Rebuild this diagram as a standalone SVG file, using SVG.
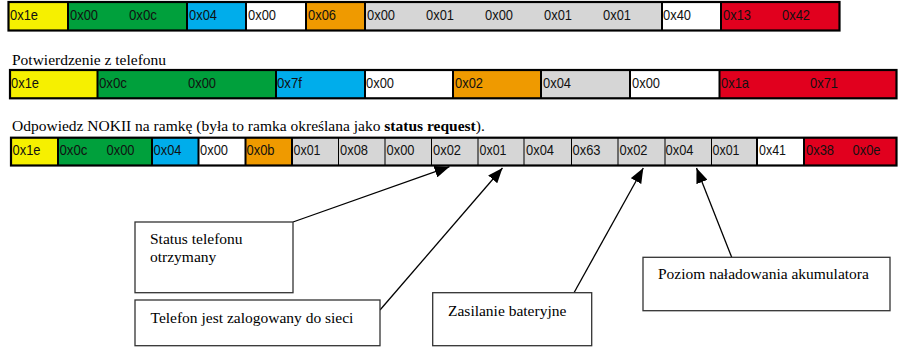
<svg xmlns="http://www.w3.org/2000/svg" width="903" height="349" viewBox="0 0 903 349">
<style>
.y{fill:#f6f000}.g{fill:#00a03c}.b{fill:#00adeb}.w{fill:#ffffff}.o{fill:#ef9a00}.s{fill:#d6d6d6}.r{fill:#e1001e}
.frame{fill:none;stroke:#000;stroke-width:2.2}
.div{stroke:#000;stroke-width:2}
.thin{stroke:#000;stroke-width:1}
.lbl{font-family:"Liberation Sans",Arial,sans-serif;font-size:15px;fill:#111}
.title{font-family:"Liberation Serif","Times New Roman",serif;font-size:15.5px;fill:#000}
.box{fill:#fff;stroke:#333;stroke-width:1.3}
.cap{font-family:"Liberation Serif","Times New Roman",serif;font-size:15.5px;fill:#000}
.con{stroke:#000;stroke-width:1.3;fill:none}
</style>
<defs>
<marker id="ah" markerUnits="userSpaceOnUse" markerWidth="15" markerHeight="12" refX="15" refY="6" orient="auto">
<path d="M0,0 L15,6 L0,12 z" fill="#000"/>
</marker>
</defs>

<g id="frame1">
<rect class="y" x="8.5" y="2" width="59.5" height="28.5"/>
<rect class="g" x="68" y="2" width="119" height="28.5"/>
<rect class="b" x="187" y="2" width="59" height="28.5"/>
<rect class="w" x="246" y="2" width="60" height="28.5"/>
<rect class="o" x="306" y="2" width="59" height="28.5"/>
<rect class="s" x="365" y="2" width="297" height="28.5"/>
<rect class="w" x="662" y="2" width="59" height="28.5"/>
<rect class="r" x="721" y="2" width="118.5" height="28.5"/>
<path class="div" d="M68,2V30.5M187,2V30.5M246,2V30.5M306,2V30.5M365,2V30.5M662,2V30.5M721,2V30.5"/>
<rect class="frame" x="8.5" y="2" width="831" height="28.5"/>
<g class="lbl">
<text x="10" y="20" textLength="28" lengthAdjust="spacingAndGlyphs">0x1e</text>
<text x="70" y="20" textLength="28" lengthAdjust="spacingAndGlyphs">0x00</text>
<text x="129" y="20" textLength="28" lengthAdjust="spacingAndGlyphs">0x0c</text>
<text x="189" y="20" textLength="28" lengthAdjust="spacingAndGlyphs">0x04</text>
<text x="248" y="20" textLength="28" lengthAdjust="spacingAndGlyphs">0x00</text>
<text x="308" y="20" textLength="28" lengthAdjust="spacingAndGlyphs">0x06</text>
<text x="367" y="20" textLength="28" lengthAdjust="spacingAndGlyphs">0x00</text>
<text x="426" y="20" textLength="28" lengthAdjust="spacingAndGlyphs">0x01</text>
<text x="485" y="20" textLength="28" lengthAdjust="spacingAndGlyphs">0x00</text>
<text x="544" y="20" textLength="28" lengthAdjust="spacingAndGlyphs">0x01</text>
<text x="603" y="20" textLength="28" lengthAdjust="spacingAndGlyphs">0x01</text>
<text x="663" y="20" textLength="28" lengthAdjust="spacingAndGlyphs">0x40</text>
<text x="723" y="20" textLength="28" lengthAdjust="spacingAndGlyphs">0x13</text>
<text x="782" y="20" textLength="28" lengthAdjust="spacingAndGlyphs">0x42</text>
</g>
</g>

<text class="title" x="12" y="65">Potwierdzenie z telefonu</text>

<g id="frame2">
<rect class="y" x="10" y="70" width="87.5" height="28.3"/>
<rect class="g" x="97.5" y="70" width="178.5" height="28.3"/>
<rect class="b" x="276" y="70" width="89" height="28.3"/>
<rect class="w" x="365" y="70" width="88" height="28.3"/>
<rect class="o" x="453" y="70" width="88" height="28.3"/>
<rect class="s" x="541" y="70" width="89" height="28.3"/>
<rect class="w" x="630" y="70" width="89.5" height="28.3"/>
<rect class="r" x="719.5" y="70" width="177" height="28.3"/>
<path class="div" d="M97.5,70V98.3M276,70V98.3M365,70V98.3M453,70V98.3M541,70V98.3M630,70V98.3M719.5,70V98.3"/>
<rect class="frame" x="10" y="70" width="886.5" height="28.3"/>
<g class="lbl">
<text x="11" y="87.5" textLength="28" lengthAdjust="spacingAndGlyphs">0x1e</text>
<text x="99" y="87.5" textLength="28" lengthAdjust="spacingAndGlyphs">0x0c</text>
<text x="188" y="87.5" textLength="28" lengthAdjust="spacingAndGlyphs">0x00</text>
<text x="277" y="87.5" textLength="25" lengthAdjust="spacingAndGlyphs">0x7f</text>
<text x="366" y="87.5" textLength="28" lengthAdjust="spacingAndGlyphs">0x00</text>
<text x="455" y="87.5" textLength="28" lengthAdjust="spacingAndGlyphs">0x02</text>
<text x="543" y="87.5" textLength="28" lengthAdjust="spacingAndGlyphs">0x04</text>
<text x="632" y="87.5" textLength="28" lengthAdjust="spacingAndGlyphs">0x00</text>
<text x="721" y="87.5" textLength="28" lengthAdjust="spacingAndGlyphs">0x1a</text>
<text x="810" y="87.5" textLength="28" lengthAdjust="spacingAndGlyphs">0x71</text>
</g>
</g>

<text class="title" x="12" y="131">Odpowiedz NOKII na ramkę (była to ramka określana jako <tspan font-weight="bold">status request</tspan>).</text>

<g id="frame3">
<rect class="y" x="11" y="137.7" width="47" height="27.8"/>
<rect class="g" x="58" y="137.7" width="94" height="27.8"/>
<rect class="b" x="152" y="137.7" width="46.5" height="27.8"/>
<rect class="w" x="198.5" y="137.7" width="47" height="27.8"/>
<rect class="o" x="245.5" y="137.7" width="46.5" height="27.8"/>
<rect class="s" x="292" y="137.7" width="465" height="27.8"/>
<rect class="w" x="757" y="137.7" width="47" height="27.8"/>
<rect class="r" x="804" y="137.7" width="92.5" height="27.8"/>
<path class="thin" d="M338.5,137.7V165.5M385,137.7V165.5M431.5,137.7V165.5M478,137.7V165.5M524,137.7V165.5M571.5,137.7V165.5M618,137.7V165.5M665,137.7V165.5M711.5,137.7V165.5"/>
<path class="div" d="M58,137.7V165.5M152,137.7V165.5M198.5,137.7V165.5M245.5,137.7V165.5M292,137.7V165.5M757,137.7V165.5M804,137.7V165.5"/>
<rect class="frame" x="11" y="137.7" width="885.5" height="27.8"/>
<g class="lbl">
<text x="12.5" y="155" textLength="28" lengthAdjust="spacingAndGlyphs">0x1e</text>
<text x="59.5" y="155" textLength="28" lengthAdjust="spacingAndGlyphs">0x0c</text>
<text x="106.5" y="155" textLength="28" lengthAdjust="spacingAndGlyphs">0x00</text>
<text x="153.5" y="155" textLength="28" lengthAdjust="spacingAndGlyphs">0x04</text>
<text x="200" y="155" textLength="28" lengthAdjust="spacingAndGlyphs">0x00</text>
<text x="246.5" y="155" textLength="28" lengthAdjust="spacingAndGlyphs">0x0b</text>
<text x="293.5" y="155" textLength="27" lengthAdjust="spacingAndGlyphs">0x01</text>
<text x="340" y="155" textLength="28" lengthAdjust="spacingAndGlyphs">0x08</text>
<text x="386.5" y="155" textLength="28" lengthAdjust="spacingAndGlyphs">0x00</text>
<text x="433" y="155" textLength="28" lengthAdjust="spacingAndGlyphs">0x02</text>
<text x="479.5" y="155" textLength="27" lengthAdjust="spacingAndGlyphs">0x01</text>
<text x="526" y="155" textLength="28" lengthAdjust="spacingAndGlyphs">0x04</text>
<text x="572.5" y="155" textLength="28" lengthAdjust="spacingAndGlyphs">0x63</text>
<text x="619.5" y="155" textLength="28" lengthAdjust="spacingAndGlyphs">0x02</text>
<text x="665.5" y="155" textLength="28" lengthAdjust="spacingAndGlyphs">0x04</text>
<text x="712.5" y="155" textLength="27" lengthAdjust="spacingAndGlyphs">0x01</text>
<text x="759" y="155" textLength="27" lengthAdjust="spacingAndGlyphs">0x41</text>
<text x="806" y="155" textLength="28" lengthAdjust="spacingAndGlyphs">0x38</text>
<text x="852.5" y="155" textLength="28" lengthAdjust="spacingAndGlyphs">0x0e</text>
</g>
</g>

<g id="connectors">
<line class="con" x1="293" y1="222" x2="449.5" y2="166.7" marker-end="url(#ah)"/>
<line class="con" x1="380" y1="310" x2="502.5" y2="168" marker-end="url(#ah)"/>
<line class="con" x1="574" y1="292.7" x2="643.3" y2="168" marker-end="url(#ah)"/>
<line class="con" x1="731.7" y1="257.3" x2="696.5" y2="168" marker-end="url(#ah)"/>
</g>

<g id="status">
<rect class="box" x="135" y="222" width="158" height="70.7"/>
<text class="cap" x="150" y="243.5">Status telefonu</text>
<text class="cap" x="150" y="261.5">otrzymany</text>
</g>

<g id="zalogowany">
<rect class="box" x="135" y="300" width="245" height="45.7"/>
<text class="cap" x="150.5" y="322.5">Telefon jest zalogowany do sieci</text>
</g>

<g id="zasilanie">
<rect class="box" x="432.7" y="292.7" width="159" height="53"/>
<text class="cap" x="448" y="315.7">Zasilanie bateryjne</text>
</g>

<g id="poziom">
<rect class="box" x="643" y="257.3" width="247" height="53.4"/>
<text class="cap" x="658" y="279.3">Poziom naładowania akumulatora</text>
</g>
</svg>
